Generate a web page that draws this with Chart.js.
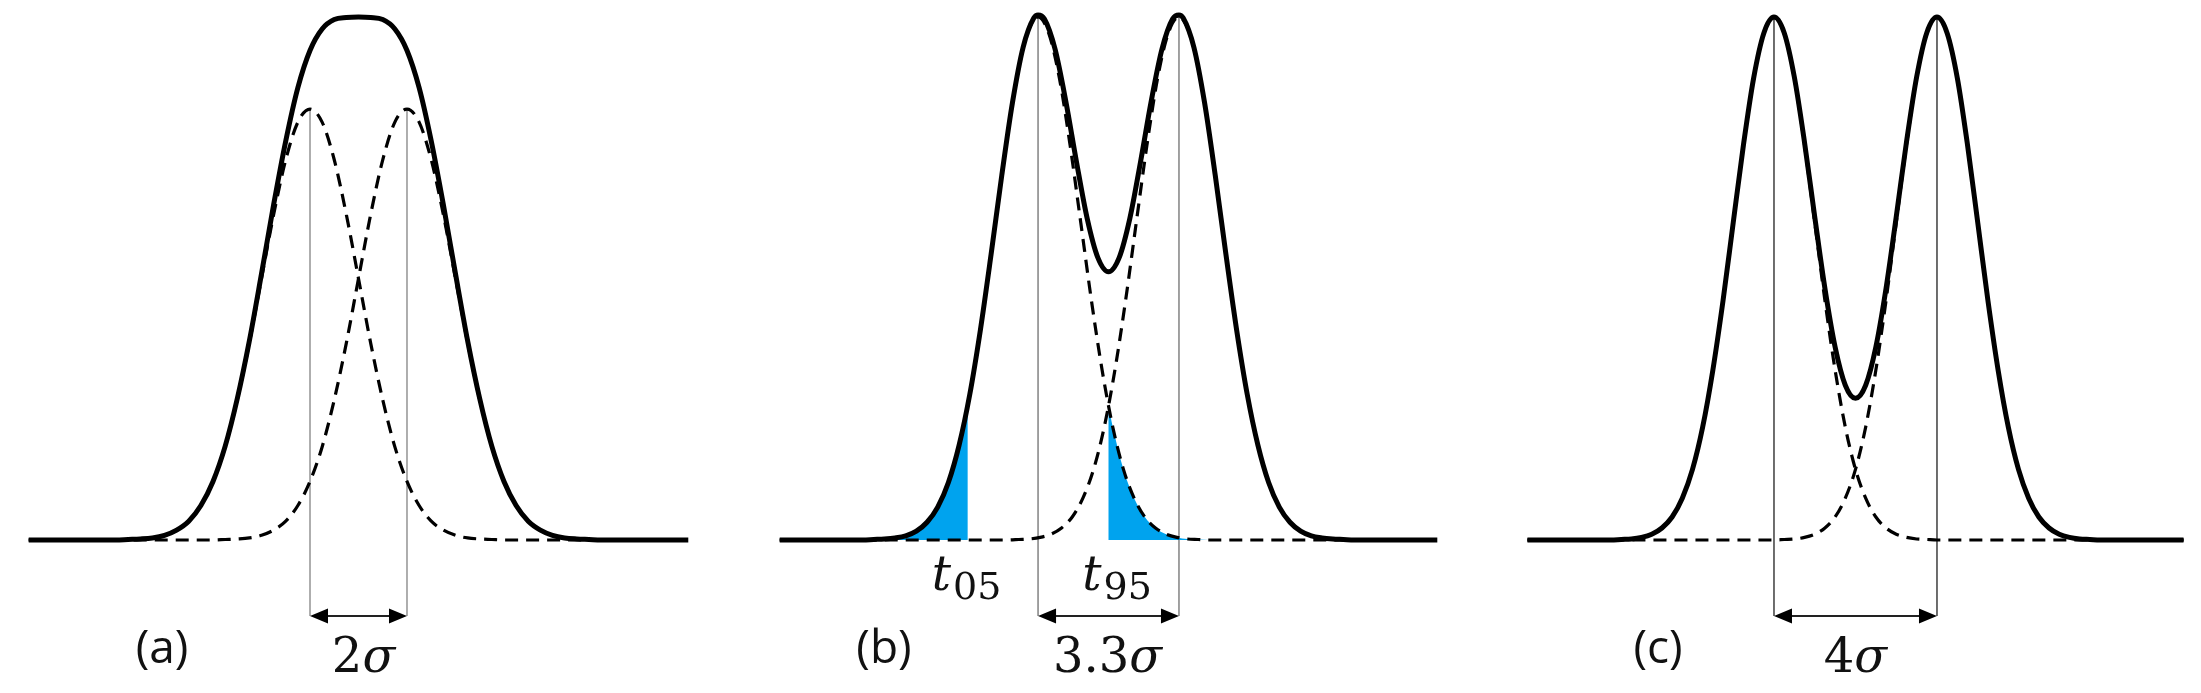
<!DOCTYPE html>
<html>
<head>
<meta charset="utf-8">
<script src="https://cdn.jsdelivr.net/npm/chart.js@4.4.1/dist/chart.umd.min.js"></script>
<style>
  html, body { margin: 0; padding: 0; background: #fff; }
  #wrap { position: relative; width: 2201px; height: 693px; }
  canvas { position: absolute; top: 0; }
</style>
</head>
<body>
<div id="wrap">
  <canvas id="pa" width="733" height="693" style="left:0"></canvas>
  <canvas id="pb" width="733" height="693" style="left:733px"></canvas>
  <canvas id="pc" width="735" height="693" style="left:1466px"></canvas>
</div>
<script>
// x is in units of sigma, measured from the middle between the two peaks.
// y is in % of the tallest point of the summed curve.

// shape of one component around its own peak
const offsets = [-4, -3.75, -3.5, -3.25, -3, -2.75, -2.5, -2.25, -2, -1.75, -1.5, -1.25, -1, -0.75, -0.5, -0.25,
  0, 0.25, 0.5, 0.75, 1, 1.25, 1.5, 1.75, 2, 2.25, 2.5, 2.75, 3, 3.25, 3.5, 3.75, 4];
const compA = [0, 0.1, 0.2, 0.4, 0.9, 1.9, 3.6, 6.6, 11.2, 17.8, 26.8, 37.7, 50.0, 62.2, 72.7, 79.9,
  82.4, 79.9, 72.7, 62.2, 50.0, 37.7, 26.8, 17.8, 11.2, 6.6, 3.6, 1.9, 0.9, 0.4, 0.2, 0.1, 0];
const compBC = [0, 0.1, 0.2, 0.5, 1.1, 2.3, 4.4, 8.0, 13.5, 21.6, 32.5, 45.8, 60.7, 75.5, 88.3, 96.9,
  100, 96.9, 88.3, 75.5, 60.7, 45.8, 32.5, 21.6, 13.5, 8.0, 4.4, 2.3, 1.1, 0.5, 0.2, 0.1, 0];

// peak positions
const peaksA = [-1, 1];
const peaksB = [-1.65, 1.65];
const peaksC = [-2, 2];

// summed curves
const sumXA = [-6.8, -5, -4.75, -4.5, -4.25, -4, -3.75, -3.5, -3.25, -3, -2.75, -2.5, -2.25, -2, -1.75, -1.5, -1.25, -1, -0.75, -0.5, -0.25,
  0, 0.25, 0.5, 0.75, 1, 1.25, 1.5, 1.75, 2, 2.25, 2.5, 2.75, 3, 3.25, 3.5, 3.75, 4, 4.25, 4.5, 4.75, 5, 6.8];
const sumYA = [0, 0, 0.1, 0.2, 0.4, 0.9, 1.9, 3.6, 6.6, 11.2, 17.9, 27.0, 38.1, 50.9, 64.1, 76.3, 86.5, 93.6, 97.7, 99.5, 99.9,
  100, 99.9, 99.5, 97.7, 93.6, 86.5, 76.3, 64.1, 50.9, 38.1, 27.0, 17.9, 11.2, 6.6, 3.6, 1.9, 0.9, 0.4, 0.2, 0.1, 0, 0];

const sumXB = [-7.7, -6, -5.75, -5.5, -5.25, -5, -4.75, -4.5, -4.25, -4, -3.75, -3.5, -3.25, -3, -2.75, -2.5, -2.25, -2, -1.75, -1.65,
  -1.5, -1.25, -1, -0.75, -0.5, -0.25, 0, 0.25, 0.5, 0.75, 1, 1.25, 1.5, 1.65, 1.75, 2, 2.25, 2.5, 2.75, 3, 3.25, 3.5, 3.75, 4,
  4.25, 4.5, 4.75, 5, 5.25, 5.5, 5.75, 6, 7.7];
const sumYB = [0, 0, 0, 0.1, 0.2, 0.4, 0.8, 1.7, 3.4, 6.3, 11.0, 18.1, 27.8, 40.2, 54.6, 69.7, 83.6, 94.2, 99.8, 100.4,
  99.6, 93.8, 83.9, 72.3, 61.5, 54.0, 51.3, 54.0, 61.5, 72.3, 83.9, 93.8, 99.6, 100.4, 99.8, 94.2, 83.6, 69.7, 54.6, 40.2, 27.8, 18.1, 11.0, 6.3,
  3.4, 1.7, 0.8, 0.4, 0.2, 0.1, 0, 0, 0];

const sumXC = [-8.05, -6.25, -6, -5.75, -5.5, -5.25, -5, -4.75, -4.5, -4.25, -4, -3.75, -3.5, -3.25, -3, -2.75, -2.5, -2.25, -2, -1.75,
  -1.5, -1.25, -1, -0.75, -0.5, -0.25, 0, 0.25, 0.5, 0.75, 1, 1.25, 1.5, 1.75, 2, 2.25, 2.5, 2.75, 3, 3.25, 3.5, 3.75, 4, 4.25,
  4.5, 4.75, 5, 5.25, 5.5, 5.75, 6, 6.25, 8.05];
const sumYC = [0, 0, 0, 0.1, 0.2, 0.5, 1.1, 2.3, 4.4, 8.0, 13.5, 21.6, 32.5, 45.8, 60.7, 75.5, 88.3, 96.9, 100, 97.0,
  88.5, 76.0, 61.8, 48.1, 36.9, 29.6, 27.1, 29.6, 36.9, 48.1, 61.8, 76.0, 88.5, 97.0, 100, 96.9, 88.3, 75.5, 60.7, 45.8, 32.5, 21.6, 13.5, 8.0,
  4.4, 2.3, 1.1, 0.5, 0.2, 0.1, 0, 0, 0];

// 5 % tails of the left component in panel (b), distance from its peak
const tailOff = [1.645, 1.75, 2, 2.25, 2.5, 2.75, 3, 3.25, 3.5, 3.75, 4];
const tailY = [25.8, 21.6, 13.5, 8.0, 4.4, 2.3, 1.1, 0.5, 0.2, 0.1, 0];

const panelTags = ['(a)', '(b)', '(c)'];
const gapLabels = ['2', '3.3', '4'];
const tailLabels = ['05', '95'];

const BLUE = '#00a3ee';
const BASE_Y = 616;   // level of the double arrows

function pts(xs, ys) {
  return xs.map((x, i) => ({ x: x, y: ys[i] }));
}

function compPts(peak, comp, xs) {
  const p = offsets.map((o, i) => ({ x: peak + o, y: comp[i] }));
  return [{ x: xs[0], y: 0 }].concat(p, [{ x: xs[xs.length - 1], y: 0 }]);
}

function makePanel(id, cfg) {
  const datasets = [
    { data: pts(cfg.sumX, cfg.sumY), borderColor: '#000', borderWidth: 5 },
    { data: compPts(cfg.peaks[0], cfg.comp, cfg.sumX), borderColor: '#000', borderWidth: 3.2, borderDash: [13, 8] },
    { data: compPts(cfg.peaks[1], cfg.comp, cfg.sumX), borderColor: '#000', borderWidth: 3.2, borderDash: [13, 8] }
  ];
  if (cfg.tails) {
    const p0 = cfg.peaks[0];
    const leftTail = tailOff.map((o, i) => ({ x: p0 - o, y: tailY[i] })).reverse();
    const rightTail = tailOff.map((o, i) => ({ x: p0 + o, y: tailY[i] }));
    [leftTail, rightTail].forEach(d => datasets.push({
      data: d, borderWidth: 0, borderColor: 'rgba(0,0,0,0)', backgroundColor: BLUE, fill: 'origin'
    }));
  }

  const top = Math.max(...cfg.comp);

  const marks = {
    id: 'marks',
    beforeDatasetsDraw(chart) {
      const { ctx, scales: { x, y } } = chart;
      ctx.save();
      ctx.strokeStyle = cfg.guide;
      ctx.lineWidth = 1.6;
      cfg.peaks.forEach(p => {
        const px = x.getPixelForValue(p);
        ctx.beginPath();
        ctx.moveTo(px, y.getPixelForValue(top));
        ctx.lineTo(px, BASE_Y);
        ctx.stroke();
      });
      ctx.restore();
    },
    afterDatasetsDraw(chart) {
      const { ctx, scales: { x, y } } = chart;
      const xl = x.getPixelForValue(cfg.peaks[0]);
      const xr = x.getPixelForValue(cfg.peaks[1]);
      ctx.save();
      // double arrow
      ctx.strokeStyle = '#222';
      ctx.fillStyle = '#000';
      ctx.lineWidth = 2;
      ctx.beginPath();
      ctx.moveTo(xl + 8, BASE_Y);
      ctx.lineTo(xr - 8, BASE_Y);
      ctx.stroke();
      ctx.beginPath();
      ctx.moveTo(xl, BASE_Y); ctx.lineTo(xl + 18, BASE_Y - 7.5); ctx.lineTo(xl + 18, BASE_Y + 7.5); ctx.closePath();
      ctx.moveTo(xr, BASE_Y); ctx.lineTo(xr - 18, BASE_Y - 7.5); ctx.lineTo(xr - 18, BASE_Y + 7.5); ctx.closePath();
      ctx.fill();

      // panel tag
      ctx.fillStyle = '#111';
      ctx.textAlign = 'center';
      ctx.textBaseline = 'alphabetic';
      ctx.font = '46px "Open Sans"';
      ctx.fillText(panelTags[cfg.idx], cfg.tagX, 663);

      // spacing label, e.g. 3.3σ
      ctx.textAlign = 'left';
      ctx.font = '48px "DejaVu Serif"';
      const num = gapLabels[cfg.idx];
      const w1 = ctx.measureText(num).width;
      ctx.font = 'italic 48px "DejaVu Serif"';
      const w2 = ctx.measureText('σ').width;
      const sx = (xl + xr) / 2 + cfg.gapDx - (w1 + w2) / 2;
      ctx.font = '48px "DejaVu Serif"';
      ctx.fillText(num, sx, 672);
      ctx.font = 'italic 48px "DejaVu Serif"';
      ctx.fillText('σ', sx + w1, 672);

      // t05 / t95
      if (cfg.tails) {
        cfg.tails.forEach((t, i) => {
          const lx = x.getPixelForValue(t.at) + t.dx;
          ctx.font = 'italic 48px "DejaVu Serif"';
          ctx.fillText('t', lx, 590);
          const wt = ctx.measureText('t').width;
          ctx.font = '38px "DejaVu Serif"';
          ctx.fillText(tailLabels[i], lx + wt + 2, 599);
        });
      }
      ctx.restore();
    }
  };

  return new Chart(document.getElementById(id), {
    type: 'line',
    data: { datasets: datasets },
    options: {
      responsive: false,
      animation: false,
      devicePixelRatio: 1,
      layout: { padding: 0 },
      elements: {
        point: { radius: 0, hoverRadius: 0 },
        line: { cubicInterpolationMode: 'monotone', borderCapStyle: 'butt', borderJoinStyle: 'round', fill: false }
      },
      plugins: { legend: { display: false }, tooltip: { enabled: false } },
      scales: {
        x: { type: 'linear', min: cfg.xMin, max: cfg.xMax, display: false },
        y: { min: -29.25, max: 103.25, display: false }
      }
    },
    plugins: [marks]
  });
}

makePanel('pa', { idx: 0, comp: compA, peaks: peaksA, sumX: sumXA, sumY: sumYA,
  xMin: -7.392, xMax: 7.722, guide: '#9a9a9a', tagX: 162, gapDx: 5 });
makePanel('pb', { idx: 1, comp: compBC, peaks: peaksB, sumX: sumXB, sumY: sumYB,
  xMin: -8.794, xMax: 8.372, guide: '#8a8a8a', tagX: 151, gapDx: -1,
  tails: [{ at: peaksB[0] - tailOff[0], dx: -36 }, { at: peaksB[0] + tailOff[0], dx: -26 }] });
makePanel('pc', { idx: 2, comp: compBC, peaks: peaksC, sumX: sumXC, sumY: sumYC,
  xMin: -9.558, xMax: 8.479, guide: '#4a4a4a', tagX: 192, gapDx: 0 });
</script>
</body>
</html>
